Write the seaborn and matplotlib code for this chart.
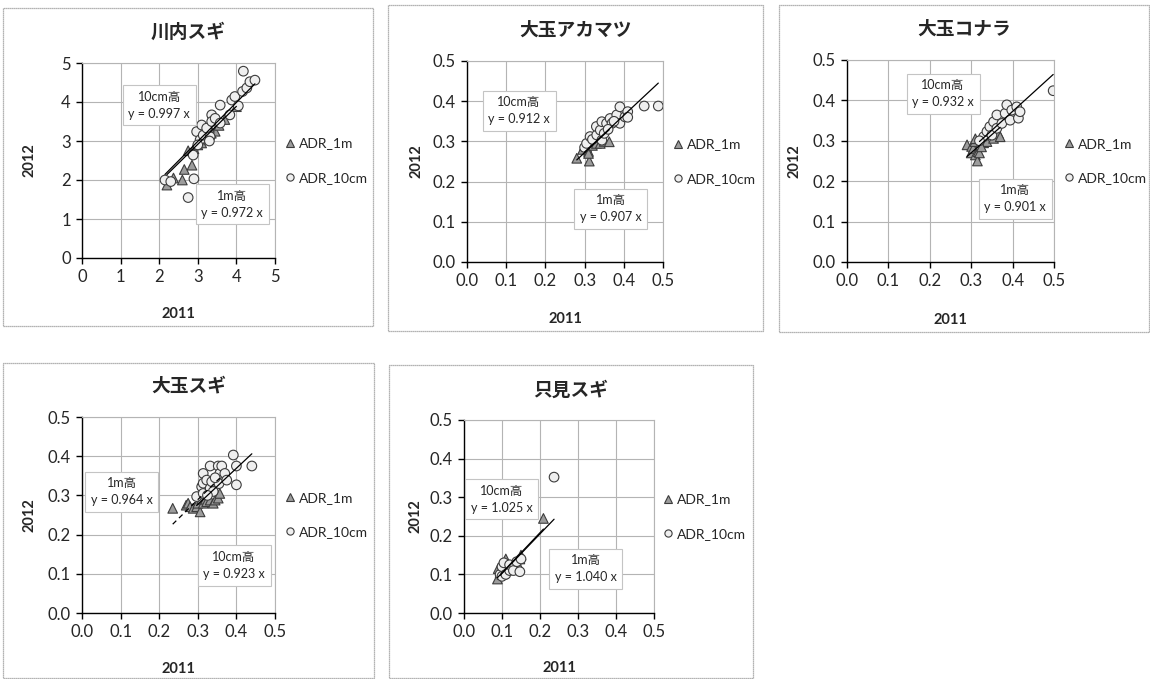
import numpy as np
import pandas as pd
import matplotlib
matplotlib.use('Agg')
import matplotlib.pyplot as plt
from matplotlib.patches import Rectangle
import seaborn as sns

# panel order: 川内スギ, 大玉アカマツ, 大玉コナラ, 大玉スギ, 只見スギ
titles = ['川内スギ', '大玉アカマツ', '大玉コナラ', '大玉スギ', '只見スギ']

adr_1m_2011 = [
    [2.2, 2.37, 2.6, 2.65, 2.85, 2.75, 2.9, 3.0, 3.1, 3.15, 3.25, 3.35, 3.45, 3.55, 3.7, 4.0, 3.3],
    [0.28, 0.295, 0.30, 0.305, 0.31, 0.312, 0.315, 0.32, 0.33, 0.34, 0.35, 0.363, 0.31],
    [0.29, 0.30, 0.301, 0.305, 0.309, 0.31, 0.315, 0.317, 0.32, 0.321, 0.33, 0.338, 0.354, 0.366, 0.37, 0.31, 0.325],
    [0.235, 0.27, 0.275, 0.28, 0.288, 0.297, 0.30, 0.306, 0.31, 0.314, 0.32, 0.323, 0.332, 0.34, 0.345, 0.353, 0.357],
    [0.088, 0.09, 0.1, 0.108, 0.11, 0.12, 0.13, 0.14, 0.147, 0.15, 0.209, 0.095],
]
adr_1m_2012 = [
    [1.87, 2.05, 2.0, 2.27, 2.38, 2.75, 2.8, 2.9, 2.95, 3.05, 3.1, 3.2, 3.25, 3.4, 3.55, 3.88, 3.35],
    [0.258, 0.28, 0.29, 0.287, 0.275, 0.251, 0.295, 0.29, 0.295, 0.295, 0.30, 0.299, 0.27],
    [0.29, 0.27, 0.286, 0.281, 0.298, 0.265, 0.25, 0.273, 0.27, 0.29, 0.295, 0.298, 0.306, 0.318, 0.31, 0.305, 0.285],
    [0.267, 0.275, 0.28, 0.271, 0.267, 0.271, 0.28, 0.258, 0.29, 0.28, 0.29, 0.284, 0.288, 0.28, 0.288, 0.293, 0.305],
    [0.088, 0.115, 0.1, 0.117, 0.14, 0.12, 0.12, 0.13, 0.14, 0.15, 0.245, 0.105],
]
adr_10cm_2011 = [
    [2.15, 2.3, 2.75, 2.9, 2.88, 2.97, 3.06, 3.1, 3.14, 3.23, 3.32, 3.36, 3.36, 3.45, 3.58, 3.58, 3.83,
     3.88, 3.96, 4.05, 4.16, 4.18, 4.27, 4.35, 4.48, 3.0, 3.3],
    [0.30, 0.305, 0.314, 0.32, 0.331, 0.33, 0.34, 0.344, 0.344, 0.356, 0.35, 0.365, 0.37, 0.382, 0.39,
     0.39, 0.403, 0.41, 0.41, 0.452, 0.488, 0.36, 0.375],
    [0.33, 0.338, 0.345, 0.35, 0.354, 0.362, 0.362, 0.374, 0.382, 0.386, 0.394, 0.398, 0.41, 0.414, 0.418, 0.498, 0.32],
    [0.297, 0.31, 0.314, 0.314, 0.314, 0.323, 0.332, 0.332, 0.336, 0.34, 0.353, 0.355, 0.357, 0.362, 0.37,
     0.375, 0.392, 0.40, 0.40, 0.44, 0.325, 0.345],
    [0.095, 0.1, 0.1, 0.105, 0.11, 0.12, 0.12, 0.13, 0.139, 0.147, 0.15, 0.237],
]
adr_10cm_2012 = [
    [2.0, 1.96, 1.55, 2.03, 2.64, 3.24, 3.03, 3.41, 3.15, 3.33, 3.11, 3.67, 3.5, 3.58, 3.92, 3.46, 3.67,
     4.05, 4.14, 3.9, 4.27, 4.79, 4.36, 4.52, 4.56, 2.9, 3.0],
    [0.285, 0.295, 0.312, 0.305, 0.316, 0.337, 0.328, 0.349, 0.303, 0.345, 0.32, 0.357, 0.345, 0.366, 0.386,
     0.345, 0.361, 0.374, 0.36, 0.388, 0.388, 0.33, 0.35],
    [0.31, 0.323, 0.335, 0.314, 0.347, 0.364, 0.331, 0.343, 0.368, 0.389, 0.351, 0.376, 0.384, 0.356, 0.372, 0.424, 0.30],
    [0.297, 0.322, 0.356, 0.331, 0.305, 0.339, 0.375, 0.318, 0.335, 0.31, 0.375, 0.33, 0.356, 0.375, 0.356,
     0.339, 0.403, 0.375, 0.327, 0.375, 0.30, 0.345],
    [0.1, 0.12, 0.095, 0.13, 0.1, 0.11, 0.125, 0.11, 0.133, 0.107, 0.14, 0.352],
]

slope_1m = [0.972, 0.907, 0.901, 0.964, 1.040]
slope_10cm = [0.997, 0.912, 0.932, 0.923, 1.025]
axis_max = [5, 0.5, 0.5, 0.5, 0.5]
axis_step = [1, 0.1, 0.1, 0.1, 0.1]

# box anchor points (data coords) for the two equation labels
box_10cm_pos = [(2.0, 3.92), (0.133, 0.376), (0.232, 0.416), (0.394, 0.121), (0.099, 0.295)]
box_1m_pos = [(3.89, 1.38), (0.367, 0.132), (0.406, 0.156), (0.103, 0.309), (0.32, 0.114)]

# layout in pixels: axes (left, top, right, bottom), frame (left, top, right, bottom)
W, H = 1150, 679
axes_px = [(82, 63, 275, 258), (467, 61, 663, 262), (847, 60, 1054, 262),
           (82, 417, 275, 613), (464, 420, 654, 613)]
frame_px = [(3, 8, 373, 326), (388, 5, 763, 331), (779, 5, 1149, 332),
            (3, 363, 374, 678), (389, 365, 753, 678)]
dashed_1m_panels = {3}  # only 大玉スギ shows the 1m fit as a dashed line

sns.set_theme(style='white')
plt.rcParams['font.family'] = ['Lato', 'Noto Sans CJK JP', 'DejaVu Sans']

fig = plt.figure(figsize=(W / 100, H / 100), dpi=100)
fig.patch.set_facecolor('white')

palette = {'ADR_1m': '#9c9c9c', 'ADR_10cm': '#efefef'}
markers = {'ADR_1m': '^', 'ADR_10cm': 'o'}
box_style = dict(boxstyle='square,pad=0.45', facecolor='white', edgecolor='#c4c4c4', linewidth=0.8)

for i, title in enumerate(titles):
    fl, ft, fr, fb = frame_px[i]
    fig.add_artist(Rectangle((fl / W, 1 - fb / H), (fr - fl) / W, (fb - ft) / H,
                             transform=fig.transFigure, fill=False,
                             edgecolor='#9a9a9a', linewidth=0.9, linestyle=(0, (1, 0.6))))

    al, at, ar, ab = axes_px[i]
    ax = fig.add_axes([al / W, 1 - ab / H, (ar - al) / W, (ab - at) / H])

    df = pd.concat([
        pd.DataFrame({'x': adr_1m_2011[i], 'y': adr_1m_2012[i], 'series': 'ADR_1m'}),
        pd.DataFrame({'x': adr_10cm_2011[i], 'y': adr_10cm_2012[i], 'series': 'ADR_10cm'}),
    ], ignore_index=True)

    sns.scatterplot(data=df, x='x', y='y', hue='series', style='series',
                    palette=palette, markers=markers, s=48,
                    edgecolor='#3c3c3c', linewidth=0.8, ax=ax, zorder=3)

    # regression lines through origin over each series' range
    x1 = np.array([min(adr_1m_2011[i]), max(adr_1m_2011[i])])
    x10 = np.array([min(adr_10cm_2011[i]), max(adr_10cm_2011[i])])
    ls_1m = (0, (4, 3)) if i in dashed_1m_panels else '-'
    ax.plot(x1, slope_1m[i] * x1, color='black', lw=0.9, ls=ls_1m, zorder=4)
    ax.plot(x10, slope_10cm[i] * x10, color='black', lw=0.9, zorder=4)

    m = axis_max[i]
    step = axis_step[i]
    ticks = np.round(np.arange(0, m + step / 2, step), 2)
    ax.set_xlim(0, m)
    ax.set_ylim(0, m)
    ax.set_xticks(ticks)
    ax.set_yticks(ticks)
    if m < 1:
        labels = [f'{t:.1f}' for t in ticks]
    else:
        labels = [f'{int(t)}' for t in ticks]
    ax.set_xticklabels(labels)
    ax.set_yticklabels(labels)
    ax.tick_params(axis='both', labelsize=12, length=4, width=1, direction='out',
                   color='black', pad=4, left=True, bottom=True)
    ax.grid(True, color='#b4b4b4', linewidth=0.8)
    ax.set_axisbelow(True)
    for side in ['left', 'bottom']:
        ax.spines[side].set_color('black')
        ax.spines[side].set_linewidth(1.0)
    for side in ['top', 'right']:
        ax.spines[side].set_color('#b4b4b4')
        ax.spines[side].set_linewidth(0.8)

    ax.set_xlabel('2011', fontsize=10.5, fontweight='bold')
    ax.set_ylabel('2012', fontsize=10.5, fontweight='bold')
    ax.xaxis.set_label_coords(0.5, -0.25)
    ax.yaxis.set_label_coords(-0.235 if i in (0, 3) else -0.22, 0.5)

    bx, by = box_10cm_pos[i]
    ax.text(bx, by, f'10cm高\ny = {slope_10cm[i]:.3f} x', fontsize=9, ha='center', va='center',
            linespacing=1.5, bbox=box_style, zorder=5)
    bx, by = box_1m_pos[i]
    ax.text(bx, by, f'1m高\ny = {slope_1m[i]:.3f} x', fontsize=9, ha='center', va='center',
            linespacing=1.5, bbox=box_style, zorder=5)

    sns.move_legend(ax, 'center left', bbox_to_anchor=(1.05, 0.5), frameon=False, title=None,
                    fontsize=10, labelspacing=1.6, handlelength=0.7, handletextpad=0.3,
                    markerscale=0.75, borderaxespad=0, borderpad=0)

    fig.text((fl + fr) / 2 / W, 1 - (at - 31) / H, title, fontsize=13.5, fontweight='bold',
             ha='center', va='center')

fig.savefig('out.png', dpi=100, facecolor='white')
